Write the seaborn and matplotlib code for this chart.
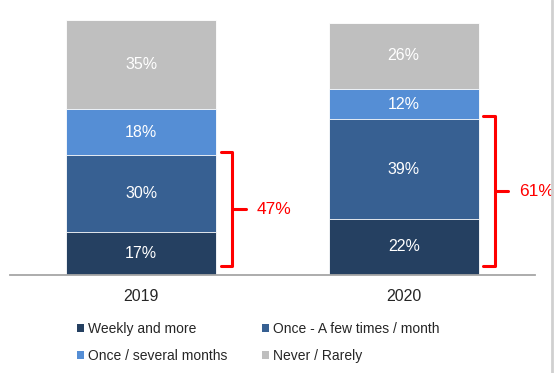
import numpy as np
import matplotlib
matplotlib.use("Agg")
import matplotlib.pyplot as plt
from matplotlib.lines import Line2D
from matplotlib.patches import Patch
import seaborn as sns

# ===== data =====
years = ["2019", "2020"]
categories = ["Weekly and more", "Once - A few times / month",
              "Once / several months", "Never / Rarely"]
weekly = [17, 22]
monthly = [30, 39]
several = [18, 12]
never = [35, 26]
colors = ["#254061", "#376092", "#558ED5", "#BFBFBF"]

sns.set_style("white")
plt.rcParams["font.family"] = ["Liberation Sans", "DejaVu Sans"]

layers = np.array([weekly, monthly, several, never], dtype=float)
cum = layers.cumsum(axis=0)

fig = plt.figure(figsize=(5.55, 3.73), dpi=100)
ax = fig.add_axes([10 / 555, 98 / 373, 525 / 555, 255 / 373])

# stacked bars: draw cumulative totals from the top layer down
for i in range(len(categories) - 1, -1, -1):
    sns.barplot(x=years, y=cum[i], color=colors[i], width=0.573, saturation=1,
                edgecolor="white", linewidth=0.6, errorbar=None, ax=ax)

for j in range(len(years)):
    for i in range(len(categories)):
        ax.text(j, cum[i, j] - layers[i, j] / 2, f"{int(layers[i, j])}%",
                ha="center", va="center", color="white", fontsize=11.5)

# red brackets around the first two layers
red = "#FF0000"
for j in range(len(years)):
    top = cum[1, j] + 1.2
    bot = 3.5
    mid = (top + bot) / 2
    xv, xe, xt = j + 0.347, j + 0.303, j + 0.398
    ax.plot([xe, xv, xv, xe], [top, top, bot, bot], color=red, lw=2.2,
            solid_joinstyle="round", clip_on=False)
    ax.plot([xv, xt], [mid, mid], color=red, lw=2.2, clip_on=False)
    ax.text(j + 0.44, mid, f"{int(cum[1, j])}%", color=red, fontsize=12.5,
            ha="left", va="center")

ax.set_xlim(-0.5, 1.5)
ax.set_ylim(0, 100)
ax.set_yticks([])
ax.set_xlabel(""); ax.set_ylabel("")
ax.tick_params(axis="x", length=0, pad=10, labelsize=11.5)
for s in ["left", "top", "right"]:
    ax.spines[s].set_visible(False)
ax.spines["bottom"].set_color("#A6A6A6")
ax.spines["bottom"].set_linewidth(1.3)

handles = [Patch(facecolor=c, edgecolor="none", linewidth=0) for c in colors]
order = [0, 2, 1, 3]
fig.legend([handles[k] for k in order], [categories[k] for k in order], ncol=2,
           loc="upper left", bbox_to_anchor=(77 / 555, 51 / 373), frameon=False,
           fontsize=10, handlelength=0.5, handleheight=0.5, handletextpad=0.3,
           columnspacing=2.5, labelspacing=0.95, borderpad=0, borderaxespad=0)

fig.add_artist(Line2D([552 / 555] * 2, [0, 1], color="#D0D0D0", lw=2,
                      transform=fig.transFigure))

fig.savefig("out.png", dpi=100)
